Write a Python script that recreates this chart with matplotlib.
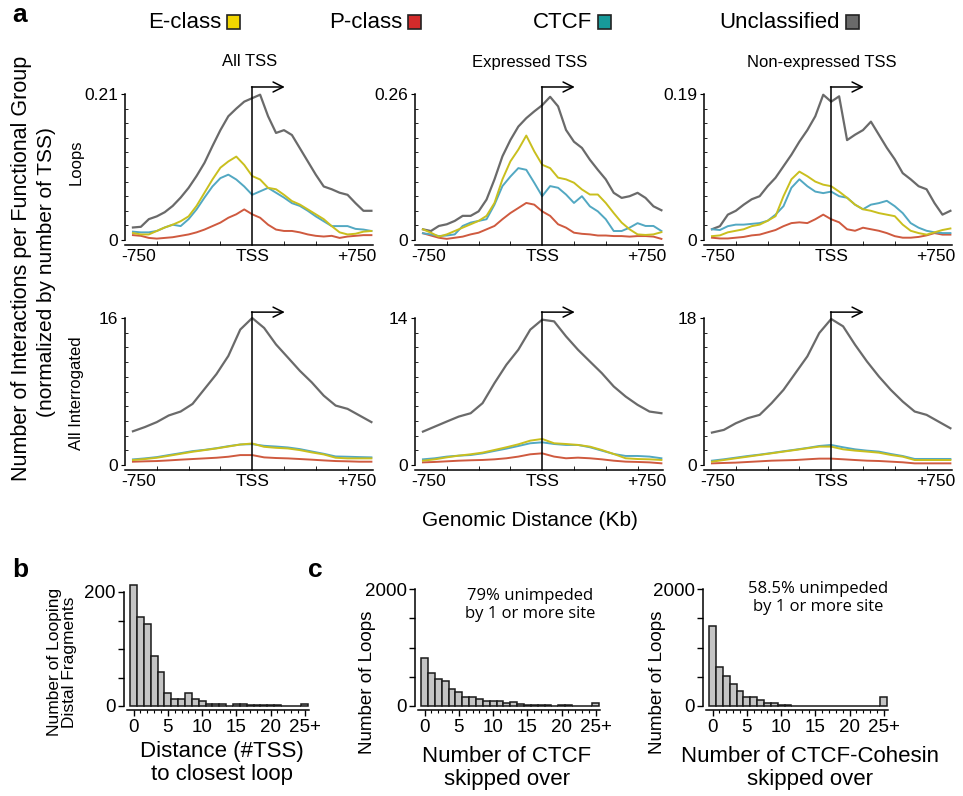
import matplotlib
matplotlib.use('Agg')
import matplotlib.pyplot as plt
import numpy as np
from matplotlib.patches import Rectangle
from matplotlib.transforms import blended_transform_factory

plt.rcParams['font.family'] = ['Liberation Sans', 'DejaVu Sans']

W, H = 963, 796

# ---- data: panel a, loops (kb positions every 50 kb) ----
dist_loops = np.arange(-750, 751, 50)
dist_all = np.arange(-750, 751, 75)

loops_all_uncl = [0.018, 0.019, 0.030, 0.034, 0.040, 0.049, 0.061, 0.075, 0.092, 0.111, 0.135,
                  0.158, 0.178, 0.189, 0.199, 0.204, 0.209, 0.178, 0.154, 0.158, 0.151,
                  0.132, 0.113, 0.094, 0.077, 0.073, 0.068, 0.065, 0.053, 0.042, 0.042]
loops_all_e = [0.010, 0.008, 0.008, 0.013, 0.018, 0.022, 0.027, 0.034, 0.049, 0.068, 0.087,
               0.104, 0.113, 0.120, 0.108, 0.092, 0.087, 0.075, 0.073, 0.065, 0.056,
               0.051, 0.044, 0.037, 0.030, 0.020, 0.011, 0.008, 0.009, 0.012, 0.013]
loops_all_ctcf = [0.012, 0.011, 0.011, 0.013, 0.018, 0.022, 0.020, 0.030, 0.044, 0.061, 0.077,
                  0.089, 0.094, 0.087, 0.077, 0.065, 0.070, 0.075, 0.068, 0.061, 0.053,
                  0.049, 0.042, 0.034, 0.027, 0.020, 0.020, 0.020, 0.016, 0.015, 0.013]
loops_all_p = [0.007, 0.006, 0.003, 0.002, 0.003, 0.004, 0.006, 0.008, 0.011, 0.015, 0.020,
               0.025, 0.032, 0.037, 0.044, 0.037, 0.032, 0.022, 0.015, 0.013, 0.013,
               0.011, 0.008, 0.006, 0.005, 0.006, 0.003, 0.005, 0.006, 0.007, 0.007]

loops_expr_uncl = [0.019, 0.016, 0.025, 0.028, 0.034, 0.043, 0.043, 0.051, 0.072, 0.108, 0.149,
                   0.178, 0.202, 0.217, 0.229, 0.240, 0.255, 0.238, 0.196, 0.175, 0.164,
                   0.143, 0.125, 0.108, 0.084, 0.075, 0.078, 0.084, 0.075, 0.060, 0.053]
loops_expr_e = [0.019, 0.013, 0.006, 0.010, 0.016, 0.022, 0.028, 0.034, 0.043, 0.066, 0.108,
                0.140, 0.161, 0.186, 0.158, 0.134, 0.128, 0.111, 0.108, 0.102, 0.090,
                0.081, 0.081, 0.066, 0.048, 0.031, 0.019, 0.010, 0.009, 0.010, 0.014]
loops_expr_ctcf = [0.012, 0.010, 0.007, 0.008, 0.010, 0.025, 0.031, 0.034, 0.037, 0.063, 0.096,
                   0.113, 0.128, 0.125, 0.102, 0.078, 0.096, 0.093, 0.081, 0.066, 0.078,
                   0.060, 0.051, 0.037, 0.016, 0.016, 0.022, 0.030, 0.025, 0.025, 0.016]
loops_expr_p = [0.012, 0.008, 0.004, 0.002, 0.004, 0.006, 0.010, 0.013, 0.019, 0.025, 0.037,
                0.048, 0.057, 0.066, 0.063, 0.051, 0.043, 0.028, 0.022, 0.013, 0.011,
                0.010, 0.008, 0.008, 0.007, 0.007, 0.006, 0.007, 0.007, 0.006, 0.002]

loops_nonexpr_uncl = [0.014, 0.018, 0.033, 0.038, 0.046, 0.053, 0.057, 0.070, 0.081, 0.096, 0.111,
                      0.128, 0.143, 0.161, 0.189, 0.180, 0.187, 0.130, 0.137, 0.143, 0.154,
                      0.137, 0.120, 0.105, 0.087, 0.079, 0.070, 0.066, 0.048, 0.033, 0.038]
loops_nonexpr_e = [0.005, 0.006, 0.010, 0.012, 0.014, 0.018, 0.020, 0.025, 0.031, 0.057, 0.079,
                   0.089, 0.083, 0.076, 0.072, 0.070, 0.063, 0.055, 0.046, 0.040, 0.038,
                   0.035, 0.033, 0.031, 0.020, 0.012, 0.009, 0.007, 0.010, 0.013, 0.015]
loops_nonexpr_ctcf = [0.014, 0.013, 0.018, 0.020, 0.020, 0.021, 0.022, 0.025, 0.033, 0.044, 0.068,
                      0.079, 0.070, 0.063, 0.061, 0.063, 0.057, 0.055, 0.046, 0.040, 0.046,
                      0.048, 0.051, 0.044, 0.035, 0.022, 0.016, 0.012, 0.010, 0.009, 0.009]
loops_nonexpr_p = [0.003, 0.002, 0.002, 0.003, 0.004, 0.006, 0.007, 0.010, 0.013, 0.018, 0.022,
                   0.023, 0.022, 0.027, 0.033, 0.027, 0.023, 0.014, 0.012, 0.016, 0.014,
                   0.012, 0.009, 0.005, 0.003, 0.003, 0.004, 0.006, 0.009, 0.007, 0.007]

# ---- data: panel a, all interrogated (kb positions every 75 kb) ----
inter_all_uncl = [3.67, 4.13, 4.67, 5.39, 5.82, 6.65, 8.27, 9.89, 11.87, 14.74, 16.0,
                  14.92, 13.12, 11.69, 10.25, 8.99, 7.55, 6.47, 6.11, 5.39, 4.67]
inter_all_e = [0.54, 0.65, 0.79, 1.00, 1.22, 1.44, 1.62, 1.80, 2.01, 2.23, 2.34,
               1.98, 1.87, 1.80, 1.62, 1.37, 1.15, 0.79, 0.72, 0.72, 0.72]
inter_all_ctcf = [0.61, 0.72, 0.86, 1.08, 1.29, 1.51, 1.65, 1.83, 2.05, 2.23, 2.27,
                  2.09, 2.01, 1.91, 1.73, 1.47, 1.22, 0.93, 0.90, 0.86, 0.83]
inter_all_p = [0.36, 0.40, 0.43, 0.50, 0.58, 0.65, 0.72, 0.79, 0.90, 1.08, 1.08,
               0.83, 0.76, 0.72, 0.65, 0.58, 0.50, 0.43, 0.40, 0.36, 0.36]

inter_expr_uncl = [3.18, 3.66, 4.14, 4.61, 4.93, 5.89, 7.80, 9.55, 10.98, 12.89, 13.84,
                   13.68, 12.25, 10.98, 9.86, 8.75, 7.48, 6.52, 5.73, 5.09, 4.93]
inter_expr_e = [0.41, 0.54, 0.73, 0.89, 1.02, 1.18, 1.43, 1.69, 1.97, 2.32, 2.48,
                2.07, 2.00, 1.91, 1.75, 1.43, 1.05, 0.64, 0.57, 0.54, 0.48]
inter_expr_ctcf = [0.54, 0.64, 0.80, 0.89, 0.95, 1.11, 1.34, 1.56, 1.81, 2.07, 2.16,
                   2.00, 1.91, 1.91, 1.69, 1.37, 1.05, 0.86, 0.86, 0.80, 0.64]
inter_expr_p = [0.25, 0.29, 0.35, 0.41, 0.45, 0.48, 0.54, 0.64, 0.80, 1.02, 1.11,
                0.80, 0.64, 0.70, 0.64, 0.54, 0.41, 0.32, 0.29, 0.25, 0.16]

inter_nonexpr_uncl = [3.97, 4.30, 5.11, 5.73, 6.14, 7.57, 9.20, 11.25, 13.30, 16.16, 17.88,
                      16.98, 14.73, 12.68, 10.84, 9.20, 7.77, 6.55, 6.14, 5.32, 4.50]
inter_nonexpr_e = [0.41, 0.61, 0.82, 1.02, 1.23, 1.43, 1.64, 1.84, 2.05, 2.25, 2.25,
                   1.92, 1.76, 1.64, 1.51, 1.23, 1.02, 0.61, 0.61, 0.61, 0.61]
inter_nonexpr_ctcf = [0.53, 0.70, 0.90, 1.10, 1.27, 1.47, 1.68, 1.88, 2.09, 2.33, 2.45,
                      2.17, 1.92, 1.76, 1.64, 1.35, 1.10, 0.74, 0.74, 0.74, 0.74]
inter_nonexpr_p = [0.20, 0.25, 0.29, 0.37, 0.45, 0.53, 0.57, 0.61, 0.70, 0.78, 0.78,
                   0.70, 0.61, 0.53, 0.49, 0.41, 0.33, 0.20, 0.20, 0.20, 0.20]

col_titles = ['All TSS', 'Expressed TSS', 'Non-expressed TSS']
loops_ymax = [0.21, 0.26, 0.19]
inter_ymax = [16, 14, 18]

# ---- data: panels b, c (histograms, bins 0..24 and 25+) ----
hist_tick_labels = ['0', '5', '10', '15', '20', '25+']
b_counts = [212, 156, 143, 88, 59, 22, 13, 13, 22, 13, 9, 3, 3, 3, 0, 4, 4, 2, 1, 1, 1, 1, 0, 0, 0, 4]
c1_counts = [815, 570, 460, 420, 290, 235, 155, 160, 122, 80, 90, 90, 48, 68, 28, 22, 20, 20, 20,
             0, 20, 20, 8, 3, 0, 45]
c2_counts = [1366, 663, 513, 375, 259, 156, 156, 110, 52, 52, 23, 23, 0, 0, 0, 0, 0, 0, 0,
             0, 0, 0, 0, 0, 0, 156]

colors = {'uncl': '#6a6a6a', 'p': '#cf5a3f', 'ctcf': '#52a8c2', 'e': '#c9bf1e'}

fig = plt.figure(figsize=(W / 100, H / 100), dpi=100)


def px_axes(left, top, width, height):
    return fig.add_axes([left / W, 1 - (top + height) / H, width / W, height / H])


def ftext(x, y, s, **kw):
    fig.text(x / W, 1 - y / H, s, **kw)


def profile_panel(ax, x, series, ymax, ylab, arrow_top):
    for key, vals in series:
        lw = 1.6 if key == 'uncl' else 1.4
        ax.plot(x, vals, color=colors[key], lw=lw, clip_on=False, zorder=2)
    ax.set_xlim(-800, 760)
    ax.set_ylim(0, ymax)
    for s in ['top', 'right']:
        ax.spines[s].set_visible(False)
    ax.spines['bottom'].set_position(('outward', 3.6))
    ax.spines['left'].set_linewidth(1.1)
    ax.spines['bottom'].set_linewidth(1.1)
    ax.set_yticks([0, ymax])
    ax.set_yticklabels(['0', ylab])
    ax.set_yticks(np.linspace(0, ymax, 11), minor=True)
    ax.set_xticks([-715, 0, 655])
    ax.set_xticklabels(['-750', 'TSS', '+750'])
    ax.set_xticks([-600, -400, -200, 200, 400, 600], minor=True)
    ax.tick_params(axis='x', which='major', length=0, labelsize=12.5, pad=3)
    ax.tick_params(axis='x', which='minor', length=3, direction='in')
    ax.tick_params(axis='y', which='major', length=3, labelsize=12.5, pad=2)
    ax.tick_params(axis='y', which='minor', length=2, direction='in')
    tr = blended_transform_factory(ax.transData, ax.transAxes)
    ax.plot([0, 0], [-0.035, arrow_top], color='black', lw=1.1, transform=tr, clip_on=False, zorder=3)
    ax.annotate('', xy=(205, arrow_top), xytext=(-4, arrow_top), xycoords=tr, textcoords=tr,
                arrowprops=dict(arrowstyle='->', lw=1.1, color='black', mutation_scale=18,
                                shrinkA=0, shrinkB=0))


lefts = [125, 415, 704]
loops_sets = [
    [('uncl', loops_all_uncl), ('p', loops_all_p), ('ctcf', loops_all_ctcf), ('e', loops_all_e)],
    [('uncl', loops_expr_uncl), ('p', loops_expr_p), ('ctcf', loops_expr_ctcf), ('e', loops_expr_e)],
    [('uncl', loops_nonexpr_uncl), ('p', loops_nonexpr_p), ('ctcf', loops_nonexpr_ctcf), ('e', loops_nonexpr_e)],
]
inter_sets = [
    [('uncl', inter_all_uncl), ('p', inter_all_p), ('ctcf', inter_all_ctcf), ('e', inter_all_e)],
    [('uncl', inter_expr_uncl), ('p', inter_expr_p), ('ctcf', inter_expr_ctcf), ('e', inter_expr_e)],
    [('uncl', inter_nonexpr_uncl), ('p', inter_nonexpr_p), ('ctcf', inter_nonexpr_ctcf), ('e', inter_nonexpr_e)],
]

for i, left in enumerate(lefts):
    ax = px_axes(left, 94, 248, 146)
    profile_panel(ax, dist_loops, loops_sets[i], loops_ymax[i], str(loops_ymax[i]), 1.048)
    ax2 = px_axes(left, 318, 248, 147)
    profile_panel(ax2, dist_all, inter_sets[i], inter_ymax[i], str(inter_ymax[i]), 1.04)

# column titles
for title, cx in zip(col_titles, [250, 530, 822]):
    ftext(cx, 62, title, ha='center', va='center', fontsize=12)

# legend across the top
legend_items = [('E-class', '#f2d600', 233), ('P-class', '#d42b2b', 414),
                ('CTCF', '#179a9a', 604), ('Unclassified', '#6a6a6a', 852)]
for name, c, bx in legend_items:
    ftext(bx - 12, 22, name, ha='right', va='center', fontsize=16)
    fig.patches.append(Rectangle(((bx - 6.5) / W, 1 - (22 + 6.5) / H), 13 / W, 13 / H,
                                 transform=fig.transFigure, facecolor=c, edgecolor='#222222', lw=1.2))

# left side labels
ftext(22, 268, 'Number of Interactions per Functional Group', rotation=90, ha='center', va='center', fontsize=15.5)
ftext(47, 272, '(normalized by number of TSS)', rotation=90, ha='center', va='center', fontsize=15)
ftext(76, 162, 'Loops', rotation=90, ha='center', va='center', fontsize=12)
ftext(76, 393, 'All Interrogated', rotation=90, ha='center', va='center', fontsize=12)
ftext(530, 520, 'Genomic Distance (Kb)', ha='center', va='center', fontsize=15)

ftext(12, 15, 'a', ha='left', va='center', fontsize=19, fontweight='bold')
ftext(12, 570, 'b', ha='left', va='center', fontsize=19, fontweight='bold')
ftext(308, 570, 'c', ha='left', va='center', fontsize=19, fontweight='bold')


def hist_panel(ax, counts, ymax, yticks, ylabels):
    bins = np.arange(len(counts))
    ax.bar(bins, counts, width=1.0, color='#c4c4c4', edgecolor='#1a1a1a', linewidth=1.1,
           zorder=2, clip_on=False)
    ax.set_xlim(-1.4, 25.6)
    ax.set_ylim(0, ymax)
    for s in ['top', 'right']:
        ax.spines[s].set_visible(False)
    ax.spines['bottom'].set_position(('outward', 3))
    ax.spines['bottom'].set_bounds(-0.9, 25.6)
    ax.spines['left'].set_linewidth(1.1)
    ax.spines['bottom'].set_linewidth(1.1)
    ax.set_xticks([0, 5, 10, 15, 20, 25])
    ax.set_xticklabels(hist_tick_labels)
    ax.set_xticks(bins, minor=True)
    ax.set_yticks(yticks)
    ax.set_yticklabels(ylabels)
    ax.tick_params(axis='x', which='major', length=4, width=1, labelsize=13.5, pad=2)
    ax.tick_params(axis='x', which='minor', length=2.5, width=0.8)
    ax.tick_params(axis='y', which='major', length=4, width=1, labelsize=13.5, pad=2)


axb = px_axes(124, 592, 185, 114)
hist_panel(axb, b_counts, 200, [0, 50, 100, 150, 200], ['0', '', '', '', '200'])
axc1 = px_axes(415, 589, 185, 117)
hist_panel(axc1, c1_counts, 2000, [0, 500, 1000, 1500, 2000], ['0', '', '', '', '2000'])
axc2 = px_axes(703, 589, 185, 117)
hist_panel(axc2, c2_counts, 2000, [0, 500, 1000, 1500, 2000], ['0', '', '', '', '2000'])

ftext(62, 662, 'Number of Looping\nDistal Fragments', rotation=90, ha='center', va='center',
      fontsize=12.5, linespacing=1.05)
ftext(222, 763, 'Distance (#TSS)\nto closest loop', ha='center', va='center', fontsize=16, linespacing=1.15)
ftext(367, 682, 'Number of Loops', rotation=90, ha='center', va='center', fontsize=13.5)
ftext(657, 682, 'Number of Loops', rotation=90, ha='center', va='center', fontsize=13.5)
ftext(507, 768, 'Number of CTCF\nskipped over', ha='center', va='center', fontsize=16, linespacing=1.15)
ftext(810, 768, 'Number of CTCF-Cohesin\nskipped over', ha='center', va='center', fontsize=16, linespacing=1.15)
ftext(530, 605, '79% unimpeded\nby 1 or more site', ha='center', va='center', fontsize=12,
      family='Open Sans', linespacing=1.1)
ftext(818, 598, '58.5% unimpeded\nby 1 or more site', ha='center', va='center', fontsize=12,
      family='Open Sans', linespacing=1.1)

fig.savefig('out.png', dpi=100)
